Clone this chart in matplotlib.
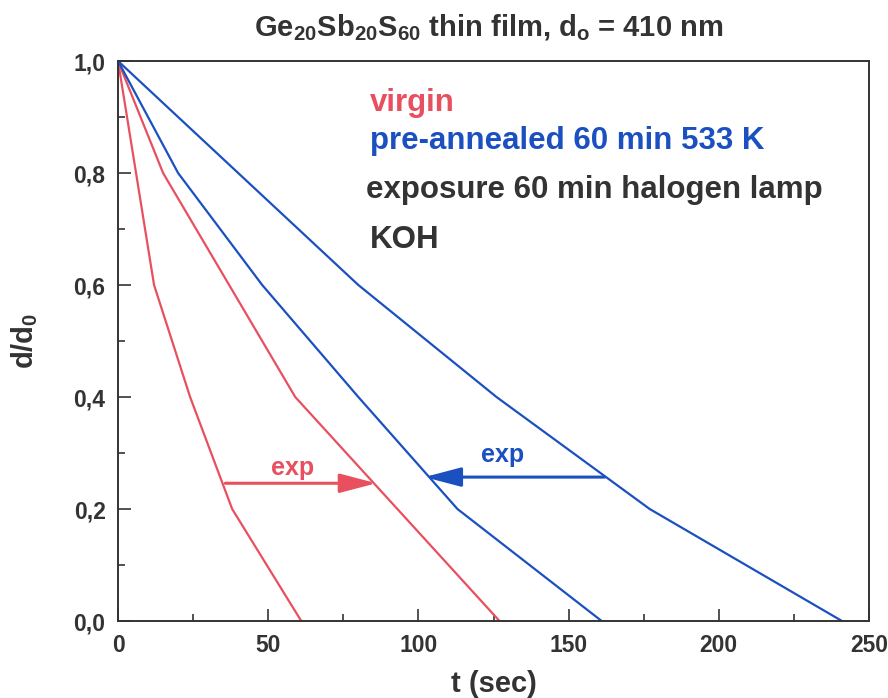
import matplotlib.pyplot as plt

RED = '#e8505f'
BLUE = '#1b50c0'
DARK = '#333333'

# virgin, unexposed / exposed
t_red1 = [0, 12, 24, 38, 61]
d_red1 = [1.0, 0.6, 0.4, 0.2, 0.0]
t_red2 = [0, 15, 59, 127]
d_red2 = [1.0, 0.8, 0.4, 0.0]

# pre-annealed, exposed / unexposed
t_blue1 = [0, 20, 48, 80, 113, 161]
d_blue1 = [1.0, 0.8, 0.6, 0.4, 0.2, 0.0]
t_blue2 = [0, 40, 80, 126, 177, 241]
d_blue2 = [1.0, 0.8, 0.6, 0.4, 0.2, 0.0]

# "exp" arrows: (start t, end t, level)
red_arrow = (35.7, 86, 0.246)
blue_arrow = (162, 102, 0.257)

xticks = [0, 50, 100, 150, 200, 250]
yticks = [0.0, 0.2, 0.4, 0.6, 0.8, 1.0]

plt.rcParams['font.family'] = ['Liberation Sans', 'DejaVu Sans']
plt.rcParams['font.weight'] = 'bold'
plt.rcParams['mathtext.fontset'] = 'custom'
plt.rcParams['mathtext.rm'] = 'Liberation Sans:bold'
plt.rcParams['mathtext.bf'] = 'Liberation Sans:bold'
plt.rcParams['mathtext.default'] = 'bf'

fig = plt.figure(figsize=(8.88, 6.98), dpi=100)
ax = fig.add_axes([0.1329, 0.1103, 0.8457, 0.8023])

ax.plot(t_red1, d_red1, color=RED, lw=1.6)
ax.plot(t_red2, d_red2, color=RED, lw=1.6)
ax.plot(t_blue1, d_blue1, color=BLUE, lw=1.6)
ax.plot(t_blue2, d_blue2, color=BLUE, lw=1.6)

for (x0, x1, y), c in [(red_arrow, RED), (blue_arrow, BLUE)]:
    ax.annotate('', xy=(x1, y), xytext=(x0, y),
                arrowprops=dict(arrowstyle='-|>,head_length=1.6,head_width=0.42',
                                color=c, lw=2.2, mutation_scale=14,
                                shrinkA=0, shrinkB=0))
ax.text(58, 0.274, 'exp', color=RED, fontsize=18, fontweight='bold', ha='center', va='center')
ax.text(128, 0.297, 'exp', color=BLUE, fontsize=18, fontweight='bold', ha='center', va='center')

fs = 22.5
ax.text(84, 0.925, 'virgin', color=RED, fontsize=fs, fontweight='bold', va='center')
ax.text(84, 0.857, 'pre-annealed 60 min 533 K', color=BLUE, fontsize=fs, fontweight='bold', va='center')
ax.text(82.5, 0.77, 'exposure 60 min halogen lamp', color=DARK, fontsize=fs, fontweight='bold', va='center')
ax.text(84, 0.68, 'KOH', color=DARK, fontsize=fs, fontweight='bold', va='center')

ax.set_xlim(0, 250)
ax.set_ylim(0, 1.0)
ax.set_xticks(xticks)
ax.set_xticks([25, 75, 125, 175, 225], minor=True)
ax.set_yticks(yticks)
ax.set_yticks([0.1, 0.3, 0.5, 0.7, 0.9], minor=True)
ax.set_xticklabels([str(v) for v in xticks])
ax.set_yticklabels([f'{v:.1f}'.replace('.', ',') for v in yticks])
ax.tick_params(direction='in', which='major', length=9, width=1.2,
               labelsize=16.5, colors=DARK, pad=9)
ax.tick_params(direction='in', which='minor', length=5, width=1.2, colors=DARK)
for s in ax.spines.values():
    s.set_linewidth(1.4)
    s.set_color(DARK)

ax.set_xlabel('t (sec)', fontsize=21, fontweight='bold', color=DARK, labelpad=10)
ax.set_ylabel('d/d$_0$', fontsize=21, fontweight='bold', color=DARK, labelpad=24)
fig.suptitle('Ge$_{20}$Sb$_{20}$S$_{60}$ thin film, d$_{o}$ = 410 nm',
             x=0.55, y=0.982, fontsize=21, fontweight='bold', color=DARK)

fig.savefig('out.png', dpi=100)
